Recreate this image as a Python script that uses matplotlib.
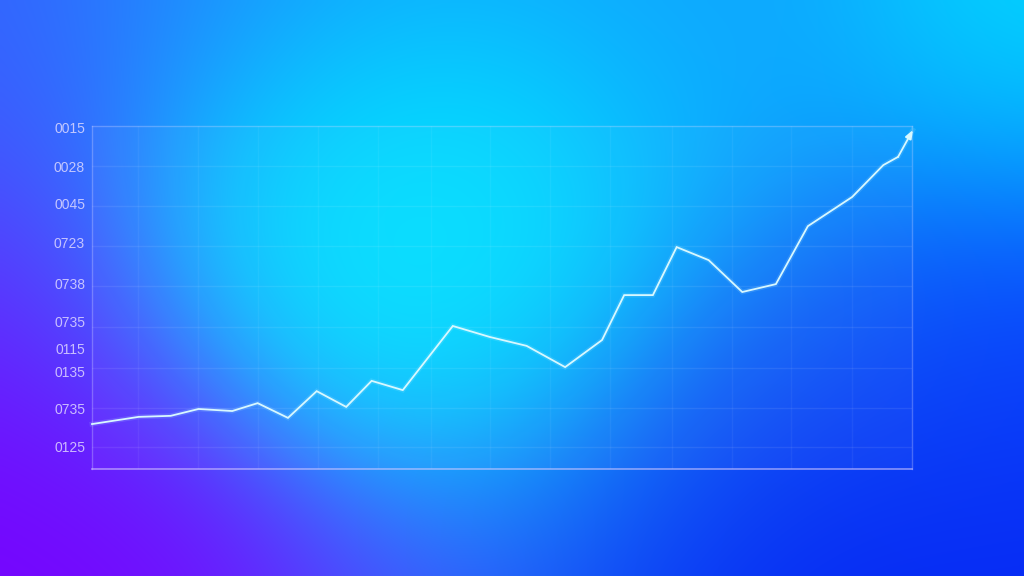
import numpy as np
import matplotlib
matplotlib.use("Agg")
import matplotlib.pyplot as plt
from matplotlib.colors import to_rgb

# ---- data (values on a 0-100 scale) ----
x_vals = [0.0, 5.7, 9.6, 13.0, 17.1, 20.2, 23.9, 27.4, 31.0, 34.1, 37.9, 44.0,
          48.5, 53.0, 57.7, 62.2, 64.9, 68.4, 71.3, 75.2, 79.3, 83.4, 87.3,
          92.7, 96.5, 98.3, 100.1]
y_vals = [13.1, 15.2, 15.5, 17.5, 16.9, 19.2, 14.9, 22.7, 18.1, 25.7, 23.0, 41.7,
          38.5, 35.9, 29.7, 37.6, 50.7, 50.7, 64.7, 60.9, 51.6, 53.9, 70.8,
          79.3, 88.6, 91.0, 98.8]
ytick_pos = [99.7, 88.3, 77.3, 65.9, 54.2, 43.1, 35.0, 28.3, 17.5, 6.7]
ytick_labels = ['0015', '0028', '0045', '0723', '0738', '0735', '0115', '0135', '0735', '0125']
hgrid = [88.3, 76.7, 65.0, 53.4, 41.4, 29.4, 17.8, 6.4]
vgrid = [5.6, 12.9, 20.2, 27.6, 34.9, 41.3, 48.5, 55.9, 63.2, 70.7, 78.0, 85.2, 92.7]

W, H = 1024, 576
fig = plt.figure(figsize=(W / 100, H / 100), dpi=100)

# ---- gradient background ----
bg = fig.add_axes([0, 0, 1, 1])
bg.set_axis_off()
anchors = [
    ((390, 230), '#00f0ff', 3.0),
    ((360, 160), '#02dcff', 1.2),
    ((430, 320), '#04dcff', 1.5),
    ((260, 270), '#0cc0ff', 1.0),
    ((520, 220), '#06d0ff', 1.2),
    ((0, 560), '#7800ff', 2.0),
    ((90, 576), '#7a00ff', 1.5),
    ((0, 400), '#7010ff', 1.2),
    ((0, 260), '#5a3cff', 1.0),
    ((0, 100), '#3a5cff', 1.0),
    ((0, 0), '#3264ff', 1.0),
    ((180, 0), '#2088ff', 1.0),
    ((400, 0), '#10a4ff', 1.3),
    ((250, 60), '#1a92ff', 0.8),
    ((620, 0), '#10a8ff', 1.0),
    ((820, 0), '#10a0ff', 0.9),
    ((1024, 0), '#00e0ff', 1.6),
    ((1024, 140), '#0a9cff', 0.8),
    ((1024, 330), '#0840ff', 1.2),
    ((960, 430), '#0c3cf6', 1.0),
    ((800, 560), '#0424f4', 1.6),
    ((1024, 576), '#0626f4', 1.2),
    ((640, 576), '#0830f6', 1.0),
    ((400, 576), '#4650ff', 1.0),
    ((220, 540), '#6a20ff', 1.0),
    ((560, 460), '#1c98f6', 1.0),
    ((720, 420), '#1a5af4', 1.0),
    ((830, 300), '#1670f6', 0.8),
    ((680, 140), '#0ab4ff', 0.9),
    ((140, 380), '#3a64ff', 0.8),
]
yy, xx = np.mgrid[0:H:4, 0:W:4]
num = np.zeros(xx.shape + (3,))
den = np.zeros(xx.shape)
sig = 120.0
for (ax_, ay_), c, w in anchors:
    d2 = (xx - ax_) ** 2 + (yy - ay_) ** 2
    wt = w * np.exp(-d2 / (2 * sig ** 2)) + 1e-12
    num += wt[..., None] * np.array(to_rgb(c))
    den += wt
img = num / den[..., None]
bg.imshow(img, extent=[0, W, H, 0], aspect='auto', interpolation='bicubic')
bg.set_xlim(0, W)
bg.set_ylim(H, 0)

# ---- chart ----
ax = fig.add_axes([92 / W, 1 - 469 / H, (912 - 92) / W, (469 - 126) / H])
ax.set_facecolor((1, 1, 1, 0.03))
ax.set_xlim(0, 100)
ax.set_ylim(0, 100)

for g in hgrid:
    ax.axhline(g, color='white', alpha=0.08, lw=1.0, zorder=1)
for g in vgrid:
    ax.axvline(g, color='white', alpha=0.05, lw=1.0, zorder=1)

for side in ['top', 'left', 'right']:
    ax.spines[side].set_color((0.85, 0.85, 1.0, 0.3))
    ax.spines[side].set_linewidth(1.0)
ax.spines['bottom'].set_color((0.85, 0.8, 1.0, 0.6))
ax.spines['bottom'].set_linewidth(1.2)

ax.set_xticks([])
ax.set_yticks(ytick_pos)
ax.set_yticklabels(ytick_labels)
ax.tick_params(axis='y', length=0, pad=5, labelsize=10)
for lbl in ax.get_yticklabels():
    lbl.set_color((0.9, 0.88, 1.0, 0.8))
    lbl.set_fontfamily(['Liberation Sans', 'DejaVu Sans'])

ax.plot(x_vals, y_vals, color='#bff6ff', lw=3.5, alpha=0.14, zorder=3,
        solid_joinstyle='miter', clip_on=False)
ax.plot(x_vals[:-1], y_vals[:-1], color='#d8f8ff', lw=1.3, zorder=4,
        solid_joinstyle='miter', clip_on=False)
ax.annotate('', xy=(x_vals[-1], y_vals[-1]), xytext=(x_vals[-2], y_vals[-2]),
            arrowprops=dict(arrowstyle='-|>,head_length=0.5,head_width=0.2',
                            color='#d8f8ff', lw=1.3, shrinkA=0, shrinkB=0),
            annotation_clip=False, zorder=5)

fig.savefig('out.png', dpi=100)
